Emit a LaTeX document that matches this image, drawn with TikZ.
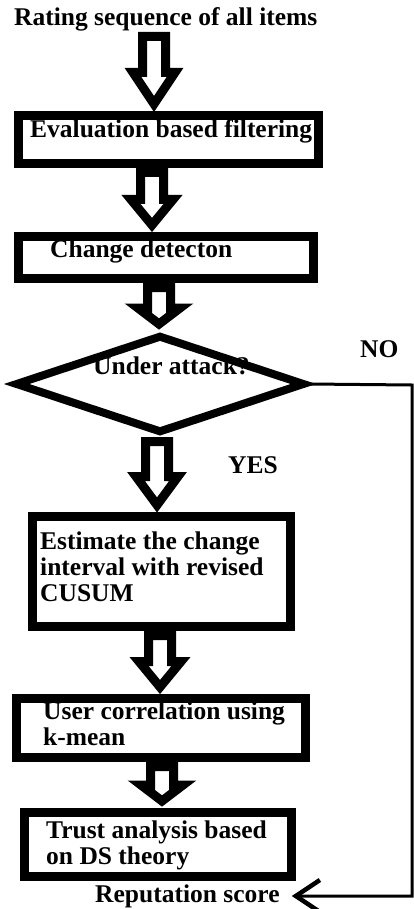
\documentclass[tikz,border=0pt]{standalone}
\usepackage{fontspec}
\setmainfont{Liberation Serif}
\usetikzlibrary{shapes.geometric,arrows.meta,calc}
\newcommand\hollowarrow[3]{% #1 top point, #2 outer tip point, #3 tip-to-head-base distance
  \draw[line width=9pt, fill=white, line join=miter]
    let \p1=#1, \p2=#2 in
    ({\x1-11.5pt},{\y1-4.5pt}) -- ({\x1-11.5pt},{\y2+#3}) -- ({\x1-21pt},{\y2+#3})
    -- ({\x1},{\y2+7pt}) -- ({\x1+21pt},{\y2+#3}) -- ({\x1+11.5pt},{\y2+#3})
    -- ({\x1+11.5pt},{\y1-4.5pt}) -- cycle;}
\begin{document}
\begin{tikzpicture}[x=1pt,y=-1pt,
  txt/.style={font=\fontsize{25.5}{26}\selectfont\bfseries, inner sep=0pt, anchor=base west, align=left},
  boxx/.style={draw, line width=9pt, rectangle, inner sep=0pt, fill=white},
  decision/.style={draw, diamond, line width=8pt, inner sep=0pt},
  thinline/.style={line width=3pt},
]
\useasboundingbox (0,0) rectangle (414,909);
\fill[white] (0,0) rectangle (414,909);

% text under the diamond outline (its top is hidden by the outline)
\node[txt] (t3) at (93,374) {Under attack?};

% boxes
\node[boxx, minimum width=300pt, minimum height=48pt] (b1) at (168.5,139.5) {};
\node[boxx, minimum width=295pt, minimum height=42pt] (b2) at (166,257.5) {};
\node[decision, minimum width=290pt, minimum height=98pt] (dec) at (160,384) {};
\node[boxx, minimum width=258pt, minimum height=110pt] (b3) at (161.5,571.5) {};
\node[boxx, minimum width=289pt, minimum height=59pt] (b4) at (161,728) {};
\node[boxx, minimum width=267pt, minimum height=64pt] (b5) at (158,844.5) {};

% texts (multi-line nodes are anchored at the baseline of their last line)
\node[txt] (title) at (14,26) {Rating sequence of all items};
\node[txt] (t1) at (30,138) {Evaluation based filtering};
\node[txt] (t2) at (50,257) {Change detecton};
\node[txt] (no) at (360,357) {NO};
\node[txt] (yes) at (228,473) {YES};
\node[txt] (t4) at (40,601) {Estimate the change\\interval with revised\\CUSUM};
\node[txt] (t5) at (43,745) {User correlation using\\k-mean};
\node[txt] (t6) at (46,864) {Trust analysis based\\on DS theory};
\node[txt] (rep) at (95,902) {Reputation score};

% block arrows
\hollowarrow{(154,0 |- title.south)}{(154,0 |- b1.north)}{38.5pt}
\hollowarrow{(152,0 |- b1.south)}{(152,0 |- b2.north)}{32.5pt}
\hollowarrow{(159,0 |- b2.south)}{(159,0 |- dec.north)}{23pt}
\hollowarrow{(157,0 |- dec.south)}{(157,0 |- b3.north)}{35.5pt}
\hollowarrow{(160,0 |- b3.south)}{(160,0 |- b4.north)}{32.5pt}
\hollowarrow{(162,0 |- b4.south)}{(162,0 |- b5.north)}{23pt}

% NO branch
\coordinate (nr) at (412,385);
\coordinate (nb) at (412,896);
\draw[thinline, -{Straight Barb[length=24pt,width=32pt,line width=4.5pt]}]
  (dec.east) -- (nr) -- (nb) -- ([xshift=12pt]rep.east |- nb);
\end{tikzpicture}
\end{document}
